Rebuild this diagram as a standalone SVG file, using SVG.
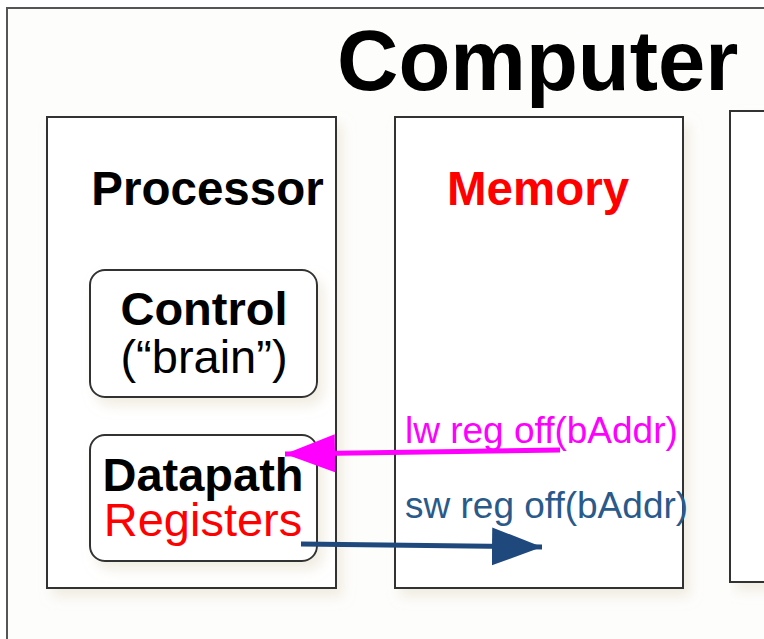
<svg xmlns="http://www.w3.org/2000/svg" width="764" height="639" viewBox="0 0 764 639">
  <defs>
    <filter id="sh" x="-10%" y="-10%" width="130%" height="130%">
      <feGaussianBlur in="SourceAlpha" stdDeviation="6"/>
      <feOffset dx="6" dy="8" result="b"/>
      <feFlood flood-color="#e8e2d0" flood-opacity="0.6"/>
      <feComposite in2="b" operator="in"/>
      <feMerge><feMergeNode/><feMergeNode in="SourceGraphic"/></feMerge>
    </filter>
    <marker id="mag" markerUnits="userSpaceOnUse" markerWidth="52" markerHeight="40" refX="50" refY="19" orient="auto">
      <path d="M0,0 L50,19 L0,38 Z" fill="#ff00ff"/>
    </marker>
    <marker id="blu" markerUnits="userSpaceOnUse" markerWidth="52" markerHeight="40" refX="50" refY="19" orient="auto">
      <path d="M0,0 L50,19 L0,38 Z" fill="#1f497d"/>
    </marker>
  </defs>
  <style>
    .box { fill: #ffffff; stroke: #333333; stroke-width: 2; }
    .t { font-family: "Liberation Sans", Arial, sans-serif; }
    .b { font-weight: bold; }
  </style>
  <rect width="764" height="639" fill="#ffffff"/>

  <g id="computer">
    <rect x="7" y="8" width="770" height="650" fill="#fdfdfc" stroke="#555555" stroke-width="2"/>
    <text class="t b" x="337" y="90" font-size="85" fill="#000000">Computer</text>
  </g>

  <g id="processor">
    <rect class="box" x="47" y="117" width="289" height="471" filter="url(#sh)"/>
    <text class="t b" x="207.5" y="205" font-size="47.5" text-anchor="middle" fill="#000000">Processor</text>
  </g>

  <g id="control">
    <rect class="box" x="90" y="270" width="227" height="127" rx="15" filter="url(#sh)"/>
    <text class="t b" x="204" y="325" font-size="47" text-anchor="middle" fill="#000000">Control</text>
    <text class="t" x="204" y="373" font-size="47" text-anchor="middle" fill="#000000">(“brain”)</text>
  </g>

  <g id="datapath">
    <rect class="box" x="90" y="435" width="227" height="126" rx="15" filter="url(#sh)"/>
    <text class="t b" x="203" y="491" font-size="47" text-anchor="middle" fill="#000000">Datapath</text>
    <text class="t" x="203" y="536" font-size="47" text-anchor="middle" fill="#ff0000">Registers</text>
  </g>

  <g id="memory">
    <rect class="box" x="395" y="117" width="288" height="471" filter="url(#sh)"/>
    <text class="t b" x="538" y="205" font-size="47.5" text-anchor="middle" fill="#ff0000">Memory</text>
  </g>

  <g id="io">
    <rect class="box" x="730" y="111" width="60" height="471" filter="url(#sh)"/>
  </g>

  <g id="connectors">
    <line x1="560" y1="450" x2="285" y2="454" stroke="#ff00ff" stroke-width="5" marker-end="url(#mag)"/>
    <line x1="301" y1="544" x2="542" y2="547" stroke="#1f497d" stroke-width="5" marker-end="url(#blu)"/>
  </g>

  <g id="labels">
    <text class="t" x="405" y="443" font-size="37" fill="#ff00ff">lw reg off(bAddr)</text>
    <text class="t" x="405" y="518" font-size="37" fill="#2a5a8a">sw reg off(bAddr)</text>
  </g>
</svg>
